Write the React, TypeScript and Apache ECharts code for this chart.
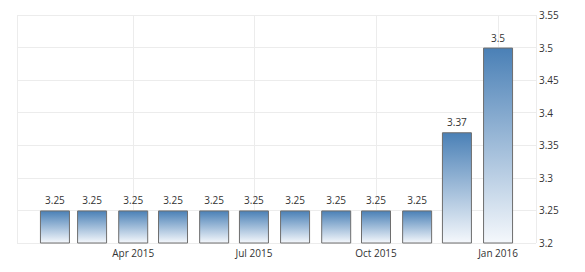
import React, { useEffect, useRef } from "react";
import * as echarts from "echarts";

const months: string[] = [
  "2015-02-01", "2015-03-01", "2015-04-01", "2015-05-01", "2015-06-01", "2015-07-01",
  "2015-08-01", "2015-09-01", "2015-10-01", "2015-11-01", "2015-12-01", "2016-01-01",
];
const values: number[] = [3.25, 3.25, 3.25, 3.25, 3.25, 3.25, 3.25, 3.25, 3.25, 3.25, 3.37, 3.5];
const yTicks = { min: 3.2, max: 3.55, interval: 0.05 };
const monthNames = ["Jan", "Feb", "Mar", "Apr", "May", "Jun", "Jul", "Aug", "Sep", "Oct", "Nov", "Dec"];

const DAY = 86400000;
const GRID_LEFT = 17;
const GRID_RIGHT = 49;
const WIDTH = 585;
const BAR_W = 30;

export default function App() {
  const ref = useRef<HTMLDivElement>(null);
  useEffect(() => {
    document.body.style.margin = "0";
    const chart = echarts.init(ref.current!, undefined, { renderer: "svg" });
    const t0 = Date.parse(months[0] + "T00:00:00Z");
    const t1 = Date.parse(months[months.length - 1] + "T00:00:00Z");
    // desired visible padding on each side (days), then compensate for ECharts' bar-overflow expansion
    const padFinal = 28.6 * DAY;
    const finalRange = t1 - t0 + 2 * padFinal;
    const axisLen = WIDTH - GRID_LEFT - GRID_RIGHT;
    const oldRange = finalRange * (1 - BAR_W / axisLen);
    const padOld = (oldRange - (t1 - t0)) / 2;
    chart.setOption({
      animation: false,
      grid: { left: GRID_LEFT, right: GRID_RIGHT, top: 15, bottom: 29 },
      xAxis: {
        type: "time",
        min: t0 - padOld,
        max: t1 + padOld,
        splitNumber: 3,
        axisLine: { show: false },
        axisTick: { show: false },
        splitLine: { show: true, lineStyle: { color: "#ececec", width: 1 } },
        axisLabel: {
          color: "#333",
          fontSize: 10,
          fontFamily: "Open Sans",
          margin: 5,
          formatter: (v: number) => {
            const d = new Date(v);
            return monthNames[d.getUTCMonth()] + " " + d.getUTCFullYear();
          },
        },
      },
      yAxis: {
        type: "value",
        position: "right",
        min: yTicks.min,
        max: yTicks.max,
        interval: yTicks.interval,
        axisLine: { show: false },
        axisTick: { show: false },
        splitLine: { show: true, lineStyle: { color: "#ececec", width: 1 } },
        axisLabel: { color: "#333", fontSize: 10, fontFamily: "Open Sans", margin: 3 },
      },
      series: [
        {
          type: "bar",
          barWidth: BAR_W,
          data: months.map((m, i) => [Date.parse(m + "T00:00:00Z"), values[i]]),
          itemStyle: {
            color: new echarts.graphic.LinearGradient(0, 0, 0, 1, [
              { offset: 0, color: "#4a80b6" },
              { offset: 1, color: "#f5f8fc" },
            ]),
            borderColor: "#6e6e6e",
            borderWidth: 1,
          },
          label: {
            show: true,
            position: "top",
            distance: 5,
            color: "#333",
            fontSize: 10,
            fontFamily: "Open Sans",
          },
        },
      ],
    });
    return () => chart.dispose();
  }, []);
  return <div ref={ref} style={{ width: WIDTH, height: 272 }} />;
}
